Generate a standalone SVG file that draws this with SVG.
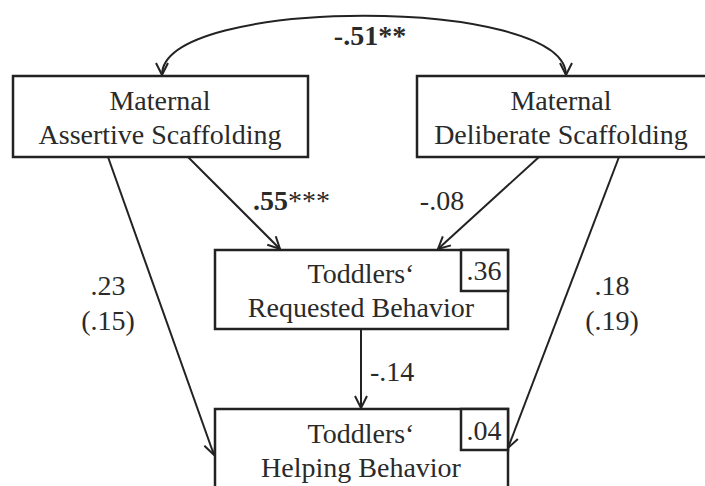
<svg xmlns="http://www.w3.org/2000/svg" width="705" height="486" viewBox="0 0 705 486">
<style>
.box{fill:#fff;stroke:#222;stroke-width:2.5}
.c{fill:none;stroke:#222;stroke-width:2}
text{font-family:"Liberation Serif","Times New Roman",serif;font-size:28px;fill:#2a2a2a}
.m{text-anchor:middle}
.b{font-weight:bold}
</style>
<defs>
<marker id="ah" markerUnits="userSpaceOnUse" markerWidth="16" markerHeight="16" viewBox="0 0 16 16" refX="14" refY="8" orient="auto-start-reverse">
<path d="M2,2 L14,8 L2,14" fill="none" stroke="#222" stroke-width="2"/>
</marker>
</defs>
<rect width="705" height="486" fill="#fff"/>
<g id="connectors">
<path class="c" d="M162,75 C162,-4 566,-4 566,75" marker-start="url(#ah)" marker-end="url(#ah)"/>
<path class="c" d="M188,157 L280,249" marker-end="url(#ah)"/>
<path class="c" d="M539,157 L438,249" marker-end="url(#ah)"/>
<path class="c" d="M108,157 L214,455" marker-end="url(#ah)"/>
<path class="c" d="M619,157 L508,448" marker-end="url(#ah)"/>
<path class="c" d="M361,329 L361,408" marker-end="url(#ah)"/>
</g>
<g id="labels">
<text x="370" y="45" class="m b">-.51**</text>
<text x="253" y="210"><tspan class="b">.55</tspan>***</text>
<text x="442" y="210" class="m">-.08</text>
<text x="108" y="295" class="m">.23</text>
<text x="108" y="330" class="m">(.15)</text>
<text x="612" y="295" class="m">.18</text>
<text x="612" y="330" class="m">(.19)</text>
<text x="370" y="381">-.14</text>
</g>
<g id="node-assertive">
<rect class="box" x="13" y="76" width="295" height="81"/>
<text x="160" y="110" class="m">Maternal</text>
<text x="160" y="144" class="m">Assertive Scaffolding</text>
</g>
<g id="node-deliberate">
<rect class="box" x="417" y="76" width="295" height="81"/>
<text x="561" y="110" class="m">Maternal</text>
<text x="561" y="144" class="m">Deliberate Scaffolding</text>
</g>
<g id="node-requested">
<rect class="box" x="215" y="250" width="293" height="79"/>
<text x="361" y="283" class="m">Toddlers‘</text>
<text x="361" y="317" class="m">Requested Behavior</text>
<rect class="box" x="461" y="250" width="47" height="41"/>
<text x="484" y="280" class="m">.36</text>
</g>
<g id="node-helping">
<rect class="box" x="215" y="409" width="293" height="100"/>
<text x="361" y="443" class="m">Toddlers‘</text>
<text x="361" y="477" class="m">Helping Behavior</text>
<rect class="box" x="461" y="409" width="47" height="41"/>
<text x="484" y="440" class="m">.04</text>
</g>
</svg>
